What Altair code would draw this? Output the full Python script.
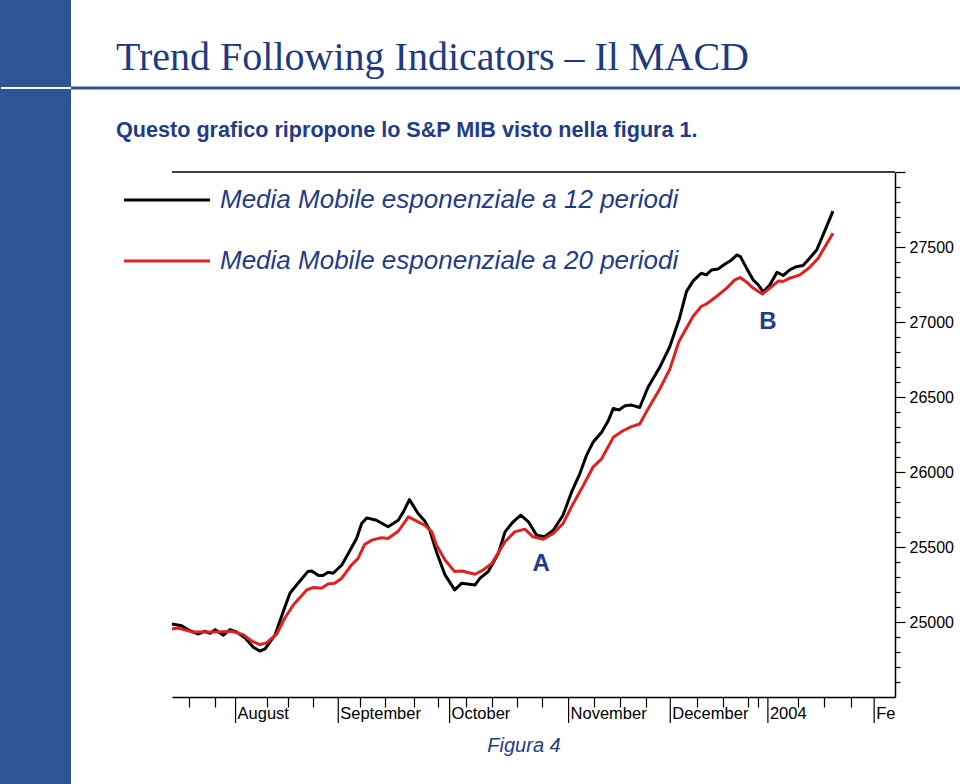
import altair as alt
import pandas as pd

# ---------------- data ----------------
ema12_day = [0.0, 1.9, 3.5, 5.2, 6.4, 7.5, 8.5, 10.1, 11.4, 12.7, 14.4, 16.0, 17.3, 18.3,
             20.3, 21.9, 23.2, 24.5, 25.5, 26.7, 27.5, 28.8, 29.7, 30.7, 31.7, 33.4, 34.7,
             36.3, 37.3, 38.3, 40.2, 42.5, 44.5, 45.5, 46.7, 48.4, 49.7, 50.7, 52.0, 53.7,
             55.6, 57.0, 59.6, 60.6, 62.2, 64.2, 65.5, 67.1, 68.6, 70.1, 71.7, 73.3, 75.0,
             76.9, 78.6, 80.2, 81.5, 82.8, 84.5, 85.8, 86.8, 87.9, 89.1, 90.4, 92.0, 93.6,
             95.9, 97.9, 99.8, 101.2, 102.5, 104.1, 105.1, 106.1, 107.4, 108.7, 110.0, 111.1,
             111.8, 113.0, 114.3, 115.3, 116.3, 117.6, 119.0, 120.2, 121.5, 122.8, 124.1,
             125.4, 126.8, 128.1, 130.0]
ema12_val = [24987, 24975, 24942, 24920, 24938, 24925, 24949, 24912, 24949, 24934, 24894,
             24832, 24806, 24821, 24916, 25071, 25192, 25247, 25287, 25336, 25340, 25310,
             25310, 25332, 25325, 25380, 25458, 25557, 25656, 25694, 25678, 25635, 25678,
             25734, 25816, 25723, 25674, 25612, 25469, 25314, 25214, 25259, 25247, 25292,
             25336, 25458, 25601, 25668, 25712, 25668, 25579, 25568, 25612, 25712, 25867,
             25988, 26109, 26198, 26265, 26341, 26424, 26414, 26441, 26446, 26430, 26563,
             26696, 26835, 27024, 27204, 27274, 27325, 27314, 27347, 27354, 27385, 27412,
             27447, 27436, 27359, 27281, 27248, 27200, 27248, 27332, 27310, 27347, 27369,
             27376, 27425, 27480, 27584, 27739]

ema20_day = [0.0, 1.2, 3.9, 6.5, 9.1, 11.7, 14.0, 15.7, 17.3, 18.6, 20.6, 22.2, 23.9, 26.5,
             27.8, 29.4, 30.7, 32.0, 33.4, 35.3, 36.6, 37.9, 39.3, 41.2, 42.5, 44.5, 46.5,
             48.4, 49.7, 51.1, 52.0, 53.7, 55.6, 57.0, 59.6, 61.2, 62.9, 65.5, 67.4, 69.4,
             71.0, 73.0, 75.0, 76.9, 78.9, 80.9, 82.8, 84.5, 86.8, 88.7, 90.4, 92.0, 93.6,
             95.9, 97.9, 99.7, 102.5, 104.1, 105.1, 107.1, 109.1, 110.7, 111.7, 113.0, 114.3,
             116.1, 117.6, 119.3, 120.2, 121.5, 123.5, 125.4, 127.1, 130.0]
ema20_val = [24954, 24960, 24934, 24934, 24934, 24938, 24916, 24872, 24849, 24861, 24920,
             25027, 25115, 25214, 25230, 25225, 25254, 25259, 25292, 25380, 25424, 25517,
             25546, 25562, 25557, 25605, 25701, 25668, 25645, 25601, 25513, 25413, 25336,
             25340, 25318, 25347, 25391, 25535, 25601, 25619, 25568, 25552, 25590, 25656,
             25789, 25910, 26032, 26088, 26231, 26275, 26302, 26320, 26419, 26552, 26684,
             26870, 27038, 27104, 27120, 27170, 27226, 27281, 27296, 27266, 27226, 27186,
             27226, 27274, 27270, 27292, 27314, 27363, 27425, 27591]

series_names = ["Media Mobile esponenziale a 12 periodi",
                "Media Mobile esponenziale a 20 periodi"]
series_colors = ["#000000", "#E2211C"]

week_ticks = [3.3, 8.4, 18.6, 22.9, 27.8, 37.0, 41.9, 47.5, 52.4, 57.8, 62.9, 67.8, 72.8,
              83.0, 88.2, 93.2, 103.2, 108.3, 113.2, 115.3, 123.1, 128.3, 133.6]
month_pos = [12.5, 32.7, 54.6, 78.0, 98.0, 117.2, 138.1]
month_labels = ["August", "September", "October", "November", "December", "2004", "Fe"]

y_minor_ticks = list(range(24600, 28001, 100))
y_label_values = [25000, 25500, 26000, 26500, 27000, 27500]

ann_text = ["A", "B"]
ann_day = [72.6, 117.2]
ann_val = [25385, 27003]

title_text = "Trend Following Indicators \u2013 Il MACD"
subtitle_text = "Questo grafico ripropone lo S&P MIB visto nella figura 1."
caption_text = "Figura 4"

# ---------------- tables ----------------
lines_df = pd.concat([
    pd.DataFrame({"day": ema12_day, "value": ema12_val, "series": series_names[0]}),
    pd.DataFrame({"day": ema20_day, "value": ema20_val, "series": series_names[1]}),
], ignore_index=True)
months_df = pd.DataFrame({"pos": month_pos, "label": month_labels})
ann_df = pd.DataFrame({"day": ann_day, "value": ann_val, "text": ann_text})

W, H = 723, 525
BLUE_BAR = "#2E5496"
NAVY = "#1E3A80"
TEXT_BLUE = "#1F3C88"

x_scale = alt.Scale(domain=[0, 142.2], nice=False, zero=False)
y_scale = alt.Scale(domain=[24500, 28000], nice=False, zero=False)

one = alt.Data(values=[{}])

# decorations
sidebar = alt.Chart(one).mark_rect(color=BLUE_BAR).encode(
    x=alt.value(-172), x2=alt.value(-101), y=alt.value(-172), y2=alt.value(612))
header_line = alt.Chart(one).mark_rule(color=BLUE_BAR, strokeWidth=3).encode(
    x=alt.value(-101), x2=alt.value(788), y=alt.value(-84))
header_white = alt.Chart(one).mark_rule(color="white", strokeWidth=2).encode(
    x=alt.value(-171), x2=alt.value(-101), y=alt.value(-84))
title = alt.Chart(one).mark_text(
    text=title_text, align="left", baseline="alphabetic", font="Liberation Serif",
    fontSize=40, color=NAVY).encode(x=alt.value(-56), y=alt.value(-102))
subtitle = alt.Chart(one).mark_text(
    text=subtitle_text, align="left", baseline="alphabetic",
    font="Liberation Sans", fontWeight="bold",
    fontSize=21.6, color=TEXT_BLUE).encode(x=alt.value(-56), y=alt.value(-35))
caption = alt.Chart(one).mark_text(
    text=caption_text, align="center", baseline="middle",
    font="Liberation Sans", fontStyle="italic",
    fontSize=20, color=TEXT_BLUE).encode(x=alt.value(352), y=alt.value(574))
top_frame = alt.Chart(one).mark_rule(color="black", strokeWidth=1.5).encode(
    x=alt.value(0), x2=alt.value(W), y=alt.value(0))

legend_layers = []
for i, (nm, col) in enumerate(zip(series_names, series_colors)):
    yy = 28 + 61 * i
    legend_layers.append(alt.Chart(one).mark_rule(color=col, strokeWidth=3).encode(
        x=alt.value(-48), x2=alt.value(38), y=alt.value(yy)))
    legend_layers.append(alt.Chart(one).mark_text(
        text=nm, align="left", baseline="middle", font="Liberation Sans",
        fontStyle="italic", fontSize=26, color=TEXT_BLUE).encode(
        x=alt.value(48), y=alt.value(yy)))

lines = alt.Chart(lines_df).mark_line(strokeWidth=3, strokeJoin="round").encode(
    x=alt.X("day:Q", scale=x_scale, title=None,
            axis=alt.Axis(values=week_ticks, tickCount=200, labels=False, tickSize=10,
                          grid=False, labelOverlap=False, labelBound=False,
                          domainColor="black", tickColor="black", domainWidth=1.5,
                          tickWidth=1.2, orient="bottom")),
    y=alt.Y("value:Q", scale=y_scale, title=None,
            axis=alt.Axis(values=y_minor_ticks, tickCount=200, orient="right", grid=False,
                          labelOverlap=False, labelBound=False, labelFlush=False,
                          tickSize={"condition": {"test": "datum.value % 500 === 0", "value": 10}, "value": 5},
                          labelExpr="indexof([" + ",".join(str(v) for v in y_label_values) + "], datum.value) >= 0 ? datum.label : ''",
                          format="d", labelFont="Liberation Sans", labelFontSize=16,
                          labelColor="black", labelPadding=4, domainColor="black",
                          tickColor="black", domainWidth=1.5, tickWidth=1.2)),
    color=alt.Color("series:N", scale=alt.Scale(domain=series_names, range=series_colors),
                    legend=None),
    order="day:Q",
)

month_rules = alt.Chart(months_df).mark_rule(color="black", strokeWidth=1.2).encode(
    x=alt.X("pos:Q", scale=x_scale), y=alt.value(H), y2=alt.value(H + 26))
month_text = alt.Chart(months_df).mark_text(
    align="left", baseline="middle", dx=2, font="Liberation Sans", fontSize=16.5,
    color="black").encode(x=alt.X("pos:Q", scale=x_scale), y=alt.value(H + 17),
                          text="label:N")

annotations = alt.Chart(ann_df).mark_text(
    align="center", baseline="middle", font="Liberation Sans", fontWeight="bold",
    fontSize=24, color=TEXT_BLUE).encode(
    x=alt.X("day:Q", scale=x_scale), y=alt.Y("value:Q", scale=y_scale), text="text:N")

chart = alt.layer(
    sidebar, header_line, header_white, title, subtitle, top_frame,
    *legend_layers, lines, month_rules, month_text, annotations, caption,
).properties(
    width=W, height=H,
    padding={"left": 172, "top": 172, "right": 65, "bottom": 87},
    autosize=alt.AutoSizeParams(type="none"),
    background="white",
).configure_view(stroke=None)

chart.save("out.html", embed_options={"renderer": "svg", "actions": False})
